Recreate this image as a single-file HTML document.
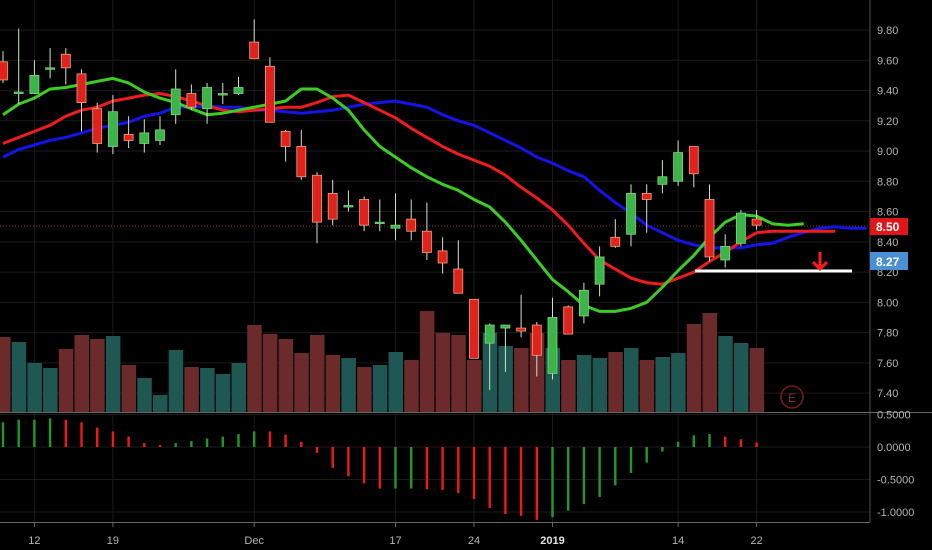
<!DOCTYPE html>
<html><head><meta charset="utf-8"><style>
html,body{margin:0;padding:0;background:#000;}
svg{display:block;font-family:"Liberation Sans",sans-serif;}
</style></head><body>
<svg id="chart" width="932" height="550" viewBox="0 0 932 550" xmlns="http://www.w3.org/2000/svg">
<rect x="0" y="0" width="932" height="550" fill="#000"/>
<g id="grid"></g>
<g id="volume"></g>
<line x1="0" y1="226" x2="870" y2="226" stroke="#8a2a2a" stroke-width="1" stroke-dasharray="1,2"/>
<g id="mas"></g>
<g id="candles"></g>
<g id="macd"></g>
<line x1="695" y1="271" x2="852" y2="271" stroke="#fff" stroke-width="3"/>
<g stroke="#ff1a1a" stroke-width="3" fill="none">
<line x1="820" y1="252" x2="820" y2="269"/><polyline points="813,262 820,269 827,262"/></g>
<g><circle cx="792" cy="397" r="11" fill="none" stroke="#7a1c1c" stroke-width="1.5"/><text x="792" y="402" text-anchor="middle" font-size="12" fill="#8a2828">E</text></g>
<line x1="870" y1="0" x2="870" y2="522" stroke="#555" stroke-width="1"/>
<line x1="0" y1="412.5" x2="932" y2="412.5" stroke="#666" stroke-width="1"/>
<line x1="0" y1="522.5" x2="870" y2="522.5" stroke="#666" stroke-width="1"/>
<g id="yaxis"></g>
<g id="maxis"></g>
<g id="xaxis"></g>
<g><rect x="870" y="218" width="38" height="17" fill="#e0161a"/><text x="876" y="231" font-size="12" font-weight="bold" fill="#fff">8.50</text></g>
<g><rect x="870" y="252" width="38" height="18" fill="#4a8fd4"/><text x="876" y="266" font-size="12" font-weight="bold" fill="#fff">8.27</text></g>
</svg>
<script>
const opens=[9.59,9.39,9.38,9.54,9.64,9.51,9.28,9.03,9.11,9.05,9.07,9.24,9.38,9.28,9.38,9.38,9.72,9.56,9.13,9.03,8.84,8.72,8.64,8.68,8.53,8.49,8.55,8.47,8.34,8.22,8.02,7.73,7.83,7.83,7.85,7.53,7.97,7.91,8.12,8.43,8.45,8.72,8.78,8.80,9.03,8.68,8.28,8.39,8.55];
const highs=[9.66,9.81,9.60,9.68,9.68,9.54,9.32,9.37,9.23,9.21,9.23,9.54,9.44,9.45,9.45,9.49,9.87,9.62,9.14,9.14,8.86,8.81,8.74,8.70,8.68,8.72,8.68,8.66,8.43,8.41,8.02,7.86,7.85,8.05,7.87,8.03,7.98,8.13,8.37,8.55,8.78,8.78,8.94,9.07,9.03,8.78,8.45,8.61,8.61];
const lows=[9.45,9.31,9.38,9.48,9.44,9.13,8.99,8.98,9.02,8.99,9.04,9.18,9.27,9.18,9.31,9.37,9.61,9.19,8.93,8.81,8.39,8.51,8.60,8.47,8.47,8.41,8.41,8.28,8.19,8.06,7.63,7.42,7.54,7.77,7.51,7.49,7.79,7.86,8.04,8.36,8.37,8.46,8.72,8.77,8.76,8.27,8.23,8.37,8.48];
const closes=[9.47,9.39,9.50,9.55,9.55,9.32,9.05,9.26,9.07,9.12,9.14,9.41,9.29,9.42,9.38,9.42,9.61,9.19,9.03,8.83,8.53,8.55,8.64,8.51,8.53,8.51,8.47,8.33,8.26,8.06,7.63,7.85,7.85,7.81,7.65,7.90,7.79,8.08,8.30,8.37,8.72,8.68,8.83,8.99,8.85,8.30,8.37,8.59,8.51];
const volumes=[75,70,49,44,63,77,73,76,47,34,17,62,45,44,38,49,87,78,73,59,77,57,54,45,47,60,52,101,79,77,52,79,66,64,79,64,52,57,54,60,64,52,55,59,88,99,76,69,64];
const maGreen=[9.24,9.31,9.35,9.41,9.42,9.44,9.46,9.48,9.45,9.39,9.35,9.32,9.28,9.24,9.25,9.27,9.29,9.31,9.33,9.41,9.41,9.35,9.27,9.14,9.03,8.96,8.89,8.83,8.78,8.74,8.68,8.63,8.53,8.41,8.28,8.15,8.07,7.98,7.94,7.94,7.96,8.00,8.10,8.21,8.31,8.43,8.53,8.58,8.57,8.52,8.51,8.52];
const maRed=[9.05,9.09,9.13,9.17,9.23,9.27,9.29,9.33,9.35,9.37,9.38,9.36,9.33,9.30,9.27,9.26,9.27,9.28,9.29,9.29,9.32,9.36,9.37,9.32,9.27,9.22,9.15,9.09,9.03,8.98,8.94,8.90,8.84,8.76,8.69,8.61,8.51,8.39,8.28,8.22,8.16,8.13,8.12,8.16,8.20,8.27,8.33,8.40,8.46,8.47,8.47,8.47,8.47,8.47];
const maBlue=[8.96,9.01,9.04,9.07,9.09,9.12,9.15,9.17,9.19,9.23,9.25,9.29,9.29,9.30,9.29,9.29,9.27,9.27,9.26,9.25,9.26,9.27,9.29,9.31,9.32,9.33,9.31,9.29,9.24,9.20,9.17,9.12,9.07,9.02,8.96,8.92,8.87,8.83,8.74,8.66,8.59,8.51,8.46,8.41,8.38,8.36,8.36,8.36,8.38,8.39,8.43,8.46,8.49,8.50,8.49,8.49];
const macdHist=[0.38,0.42,0.42,0.44,0.42,0.38,0.30,0.24,0.16,0.06,0.03,0.06,0.09,0.13,0.16,0.20,0.24,0.24,0.19,0.08,-0.09,-0.32,-0.45,-0.56,-0.64,-0.64,-0.64,-0.65,-0.66,-0.71,-0.80,-0.94,-1.03,-1.06,-1.12,-1.08,-0.98,-0.88,-0.77,-0.59,-0.40,-0.24,-0.07,0.08,0.18,0.20,0.16,0.12,0.07];
const macdRising=[1,1,1,1,0,0,0,0,0,0,0,1,1,1,1,1,1,0,0,0,0,0,0,0,0,1,1,0,0,0,0,0,0,0,0,1,1,1,1,1,1,1,1,1,1,1,0,0,0];
const priceTicks=["9.80","9.60","9.40","9.20","9.00","8.80","8.60","8.40","8.20","8.00","7.80","7.60","7.40"];
const macdTicks=["0.5000","0.0000","-0.5000","-1.0000"];
const dateLabels=["12","19","Dec","17","24","2019","14","22"];
const dateIndex=[2,7,16,25,30,35,43,48];

const NS="http://www.w3.org/2000/svg";
const X=i=>3+i*15.7;
const Y=p=>30+(9.8-p)*151.3;
const VY=v=>412-v;
const MY=v=>447-v*65;
function mk(tag,attrs,parent){const e=document.createElementNS(NS,tag);for(const k in attrs)e.setAttribute(k,attrs[k]);parent.appendChild(e);return e;}
const grid=document.getElementById('grid');
priceTicks.forEach(t=>{const l=mk('line',{x1:0,x2:870,y1:Y(+t),y2:Y(+t),stroke:'#1b1b1b'},grid);

});
macdTicks.forEach(t=>{const l=mk('line',{x1:0,x2:870,y1:MY(+t),y2:MY(+t),stroke:'#1b1b1b'},grid);

});
dateIndex.forEach(i=>{const l=mk('line',{x1:X(i),x2:X(i),y1:0,y2:522,stroke:'#1b1b1b'},grid);

});

const vol=document.getElementById('volume');
volumes.forEach((v,i)=>{const up=closes[i]>=opens[i];
const r=mk('rect',{x:X(i)-7,y:VY(v),width:14.5,height:v,fill:up?'#1f5853':'#6b2b2b'},vol);

});

const mas=document.getElementById('mas');
[[maBlue,'#1414e6','ma-blue'],[maRed,'#ee1c1c','ma-red'],[maGreen,'#3ccc24','ma-green']].forEach(([arr,c,n])=>{
const p=mk('polyline',{points:arr.map((v,i)=>X(i).toFixed(1)+','+Y(v).toFixed(1)).join(' '),fill:'none',stroke:c,'stroke-width':3,'stroke-linejoin':'round'},mas);

});

const cg=document.getElementById('candles');
opens.forEach((o,i)=>{const c=closes[i];const up=c>=o;const x=X(i);
const g=mk('g',{},cg);


mk('line',{x1:x,x2:x,y1:Y(highs[i]),y2:Y(lows[i]),stroke:up?'#c8e6c8':'#d9d9d9','stroke-width':1},g);
const top=Y(Math.max(o,c)),bot=Y(Math.min(o,c));
mk('rect',{x:x-4.5,y:top,width:9,height:Math.max(bot-top,1.5),fill:up?'#3cb44a':'#e0221c',stroke:up?'#7fd47f':'#f4a07a','stroke-width':0.8},g);});

const mg=document.getElementById('macd');
macdHist.forEach((v,i)=>{const y0=MY(0),y1=MY(v);
const r=mk('rect',{x:X(i)-1.2,y:Math.min(y0,y1),width:2.4,height:Math.abs(y1-y0),fill:macdRising[i]?'#1e9a28':'#f01818'},mg);

});

const ya=document.getElementById('yaxis');
priceTicks.forEach(t=>{const e=mk('text',{x:877,y:Y(+t)+4,'font-size':11,fill:'#b4b4b4'},ya);e.textContent=t;

});
const ma=document.getElementById('maxis');
macdTicks.forEach(t=>{const e=mk('text',{x:877,y:MY(+t)+4,'font-size':11,fill:'#b4b4b4'},ma);e.textContent=t;

});
const xa=document.getElementById('xaxis');
dateLabels.forEach((t,k)=>{const x=X(dateIndex[k]);
mk('line',{x1:x,x2:x,y1:522,y2:527,stroke:'#666'},xa);
const e=mk('text',{x:x,y:544,'font-size':11,'text-anchor':'middle',fill:t==='2019'?'#e0e0e0':'#b4b4b4','font-weight':t==='2019'?'bold':'normal'},xa);e.textContent=t;

});
</script>
</body></html>
